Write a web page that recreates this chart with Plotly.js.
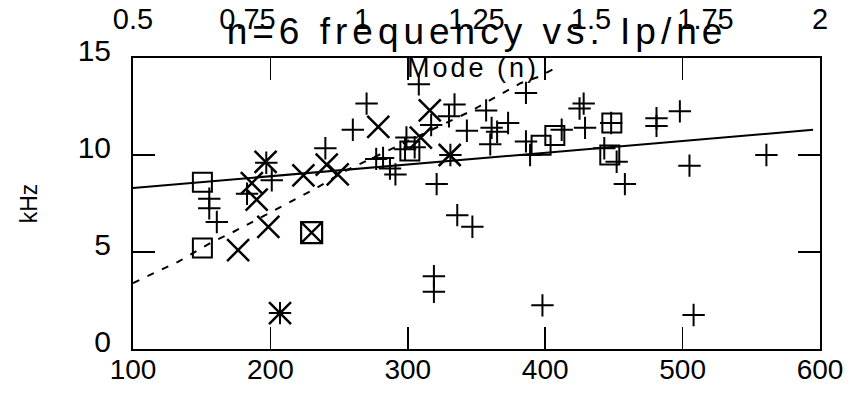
<!DOCTYPE html>
<html><head><meta charset="utf-8">
<script src="https://cdn.plot.ly/plotly-3.0.1.min.js"></script>
<style>
html,body{margin:0;padding:0;background:#fff;}
.gtitle{letter-spacing:5px;}
.annotation-text{letter-spacing:3px;}
</style>
</head><body>
<div id="chart" style="width:856px;height:393px;"></div>
<script>
// Ip/ne (x) vs n=6 frequency in kHz (y)
const plusX = [155.5,155.5,161,183,197,201,240,260,270,277,282,287,291,298,299,305,308,317,321,330,334,331,336,347,343,357,361,365,360,373,386,386,389,412,425,428,429,443,448,452,458,481,481,498,505,561,319,319,398,508,207];
const plusY = [7.75,7.25,6.55,8.0,9.6,8.7,10.35,11.3,12.65,9.8,9.85,9.3,9.0,10.3,10.9,10.4,13.65,11.55,8.5,12.0,12.6,10.0,6.9,6.3,11.25,12.3,11.4,11.2,10.55,11.65,13.2,10.7,10.0,11.3,12.4,12.65,11.4,10.35,11.65,9.65,8.5,11.9,11.5,12.25,9.45,10.0,3.75,2.95,2.25,1.75,1.85];

const xMarkX = [196.5,186.5,190,224,241,249,198.5,176.5,278.5,316,309.5,330.5,207];
const xMarkY = [9.65,8.55,7.7,8.95,9.5,9.0,6.3,5.1,11.45,12.3,10.9,10.0,1.85];

const squareX = [150.5,150.5,301.5,397,407,448.5,447];
const squareY = [8.6,5.2,10.2,10.5,11.0,11.65,10.0];

const boxX = [230];
const boxY = [6.0];

const fitX = [100,595];
const fitY = [8.3,11.3];

const dashX = [100,105,120,133,158,171,182,208,219,231,256,300,345,358,369,382,396,408];
const dashY = [3.4,3.56,4.07,4.5,5.53,5.96,6.37,7.33,7.76,8.2,9.23,10.7,12.23,12.75,13.17,13.7,14.05,14.5];

const modeTicks = [0.5,0.75,1,1.25,1.5,1.75,2];
const modeLabels = ['0.5','0.75','1','1.25','1.5','1.75','2'];
const xTicks = [100,200,300,400,500,600];
const yTicks = [0,5,10,15];

const F = 'Liberation Sans, Arial, sans-serif';

const traces = [
  {x: fitX, y: fitY, mode:'lines', line:{color:'#000', width:2}, hoverinfo:'skip'},
  {x: dashX, y: dashY, mode:'lines', line:{color:'#000', width:2, dash:'7px,9px'}, hoverinfo:'skip'},
  {x: plusX, y: plusY, mode:'markers', marker:{symbol:'cross-thin-open', size:16, color:'#000', line:{color:'#000', width:2}}},
  {x: xMarkX, y: xMarkY, mode:'markers', marker:{symbol:'x-thin-open', size:22, color:'#000', line:{color:'#000', width:2.5}}},
  {x: squareX, y: squareY, mode:'markers', marker:{symbol:'square-open', size:19, color:'#000', line:{color:'#000', width:2}}},
  {x: boxX, y: boxY, mode:'markers', marker:{symbol:'square-x-open', size:21, color:'#000', line:{color:'#000', width:2.2}}},
  // carrier for the top "Mode (n)" axis (draws nothing)
  {x: modeTicks, y: modeTicks.map(() => null), xaxis:'x2', yaxis:'y', mode:'markers', hoverinfo:'skip', showlegend:false}
];

const layout = {
  width:856, height:393,
  margin:{l:133, r:36, t:58, b:44},
  paper_bgcolor:'#fff', plot_bgcolor:'#fff',
  showlegend:false,
  font:{family:F, color:'#000'},
  title:{text:'n=6 frequency vs. Ip/ne', font:{family:F, size:37, color:'#000'}, x:477/856, xanchor:'center', xref:'container', y:1-31/393, yanchor:'middle', yref:'container'},
  xaxis:{range:[100,600], tickvals:xTicks, ticks:'inside', ticklen:22, tickwidth:1.5, tickcolor:'#000', showline:true, linecolor:'#000', linewidth:2, mirror:'ticks', showgrid:false, zeroline:false, tickfont:{family:F, size:28, color:'#000'}, ticklabelstandoff:-6},
  xaxis2:{range:[0.5,2], overlaying:'x', side:'top', anchor:'y', tickvals:modeTicks, ticktext:modeLabels, ticks:'', showline:false, showgrid:false, zeroline:false, tickfont:{family:F, size:29, color:'#000'}, ticklabelstandoff:22},
  yaxis:{range:[0,15], tickvals:yTicks, ticks:'inside', ticklen:22, tickwidth:1.5, tickcolor:'#000', showline:true, linecolor:'#000', linewidth:2, mirror:'ticks', showgrid:false, zeroline:false, tickfont:{family:F, size:30, color:'#000'}, ticklabelstandoff:14, ticklabelshift:-8,
    title:{text:'kHz', font:{family:F, size:23, color:'#000'}, standoff:34}},
  annotations:[{text:'Mode (n)', xref:'paper', yref:'paper', x:(473-133)/687, y:(349-68)/291, xanchor:'center', yanchor:'middle', showarrow:false, font:{family:F, size:27, color:'#000'}}]
};

Plotly.newPlot('chart', traces, layout, {staticPlot:true, displayModeBar:false});
</script>
</body></html>
